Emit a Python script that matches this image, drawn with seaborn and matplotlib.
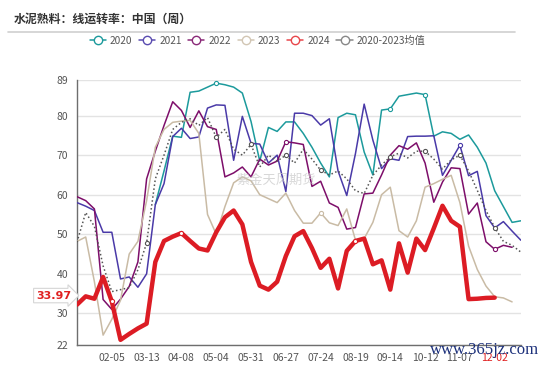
import numpy as np
import pandas as pd
import matplotlib
matplotlib.use("Agg")
import matplotlib.pyplot as plt
import seaborn as sns
from matplotlib.lines import Line2D

# ---------------- data ----------------
title = "水泥熟料：线运转率：中国（周）"
tick_labels = ["02-05", "03-13", "04-08", "05-04", "05-31", "06-27",
               "07-24", "08-19", "09-14", "10-12", "11-07", "12-02"]
n_weeks = 52
tick_step = 4

y2020_start = 9
y2020 = [57.5, 66, 74.8, 74.5, 85.9, 86.2, 87.2, 88.2, 87.8, 87.2, 85.7, 78.5,
         68.5, 77, 76, 78.4, 78.4, 75.5, 72, 68, 64.5, 79.5, 80.6, 80.2, 70.8,
         65, 81.4, 81.7, 84.9, 85.3, 85.7, 85.3, 74.8, 75.9, 75.5, 74, 75.1, 72,
         68, 61, 57, 53, 53.4]
y2021 = [58.0, 57.1, 56, 50.5, 50.5, 38.7, 39.2, 36.6, 40, 57.5,
         62.8, 74.7, 76.8, 74.2, 74.6, 81.9, 82.7, 82.6, 68.7, 79.8,
         73, 72.8, 68, 70, 60.8, 80.6, 80.6, 80, 77.6, 79.2,
         66, 59.8, 70.4, 82.9, 73.8, 66.6, 69.1, 68.7, 74.7, 74.8,
         74.8, 74.9, 64.9, 68.7, 72.5, 64.8, 65.9, 54.7, 51.6, 53.2,
         50.8, 48.5]
y2022 = [59.5, 58.5, 56.4, 33.5, 31, 33.6, 36.8, 43, 64, 71,
         77.5, 83.5, 81.3, 77, 81.2, 77.2, 76.5, 64.5, 65.5, 67,
         64.5, 69, 67.5, 68.5, 73.4, 73.1, 72.7, 62.1, 63.4, 57.9,
         56.8, 51.3, 51.7, 60.2, 60.4, 65, 70, 72.4, 71.5, 73.1,
         68, 58.1, 63.2, 66.8, 66.6, 55.1, 57.9, 48.1, 46.2, 47.2,
         46.7]
y2023 = [48.2, 49.3, 38, 24.5, 28.5, 33.3, 45, 48.2, 58.5, 72,
         76.5, 78.3, 78.6, 78.8, 75.5, 55, 50, 57, 63, 64.5,
         63.5, 60, 59, 58, 60.4, 56, 52.8, 52.8, 55.4, 52.9,
         52.2, 56.4, 48.5, 48.9, 53, 60, 61.9, 50.9, 49.3, 53.4,
         61.9, 62.8, 63.9, 64.9, 58, 47, 41.1, 36.9, 34.2, 33.9,
         32.9]
y2024 = [32.2, 34.3, 33.7, 39.2, 33.0, 23.3, 24.8, 26.2, 27.4, 43,
         48.3, 49.4, 50.3, 48.3, 46.4, 45.9, 50.5, 54.3, 56, 52.5,
         43, 37, 36, 38, 44.5, 49.5, 50.8, 46.5, 41.5, 43.8,
         36.3, 45.8, 48.3, 48.9, 42.4, 43.4, 36, 47.7, 40.3, 48.9,
         46, 51.5, 57.2, 53.4, 51.9, 33.6, 33.7, 33.9, 33.97]
yavg = [48, 55.5, 52, 42, 35.5, 36, 36.5, 41, 47.8, 64,
        70, 76.5, 78.3, 79.2, 77.5, 79.5, 74.5, 76.5, 71.5, 70,
        72.7, 67, 70, 68.5, 70, 68, 71.5, 69, 66.2, 65,
        66, 64, 61, 60.3, 64.9, 67.5, 69.6, 70.5, 69.3, 71,
        71, 69, 66.5, 68.8, 70, 66, 61.1, 56, 51.7, 48.2,
        47.2, 45.5]
latest_value = 33.97

names = ["2020", "2021", "2022", "2023", "2024", "2020-2023均值"]
values = [y2020, y2021, y2022, y2023, y2024, yavg]
starts = [y2020_start, 0, 0, 0, 0, 0]
# weeks at which the reference shows a hollow symbol on each line
symbol_weeks = [[16, 36, 40], [44], [24, 48], [28], [4, 12, 32],
                [8, 16, 20, 24, 28, 36, 40, 44, 48]]
colors = ["#1c9a9c", "#4a3aa8", "#7d0e6a", "#c9bba5", "#dc1c24", "#555555"]
legend_colors = ["#1c9a9c", "#5a4cb0", "#8a2a78", "#d2c6b4", "#e8474b", "#888888"]

# ---------------- style ----------------
sns.set_style("white")
plt.rcParams['font.family'] = ['Noto Sans CJK SC', 'DejaVu Sans']

fig = plt.figure(figsize=(5.5, 3.65), dpi=100)
fig.patch.set_facecolor("white")
ax = fig.add_axes([77 / 550, 20 / 365, (520.8 - 77) / 550, 265 / 365])

for i, (name, vals, st, c, sw) in enumerate(zip(names, values, starts, colors, symbol_weeks)):
    weeks = np.arange(st, st + len(vals))
    df = pd.DataFrame({"week": weeks, "value": vals})
    marks = [k for k, w in enumerate(weeks) if w in sw]
    is_red = name == "2024"
    is_avg = name.endswith("均值")
    sns.lineplot(data=df, x="week", y="value", ax=ax, color=c,
                 linewidth=3.2 if is_red else 1.1,
                 linestyle=(0, (1, 1.6)) if is_avg else "-",
                 marker="o", markevery=marks, markersize=3.0,
                 markerfacecolor="white", markeredgecolor=c,
                 markeredgewidth=0.8, errorbar=None, legend=False,
                 zorder=3 + i)

ax.set_xlim(0, n_weeks - 1)
ax.set_ylim(22, 89)
ax.set_yticks([22, 30, 40, 50, 60, 70, 80, 89])
ax.set_xticks(np.arange(tick_step, tick_step * len(tick_labels) + 1, tick_step))
ax.set_xticklabels(tick_labels)
ax.set_xlabel("")
ax.set_ylabel("")
ax.grid(axis="y", color="#e3e3e3", linewidth=1.0, zorder=0)
ax.grid(axis="x", visible=False)
for s in ["top", "right"]:
    ax.spines[s].set_visible(False)
for s in ["left", "bottom"]:
    ax.spines[s].set_color("#6e6e6e")
    ax.spines[s].set_linewidth(1.0)
ax.tick_params(axis="both", colors="#6e6e6e", labelcolor="#555555",
               labelsize=7.5, length=3.5, width=1.0, direction="out")
ax.tick_params(axis="y", pad=3)
ax.tick_params(axis="x", pad=2)
lbls = ax.get_xticklabels()
lbls[-1].set_color("#e02020")

# latest value label on the y-axis
ax.annotate(f"{latest_value:.2f}", xy=(0, latest_value), xycoords="data",
            xytext=(-17, 1.5), textcoords="offset points",
            ha="center", va="center", fontsize=8, fontweight="bold",
            color="#e02020", family=["DejaVu Sans"],
            bbox=dict(boxstyle="rarrow,pad=0.2", fc="white", ec="#d6d6d6", lw=0.8),
            annotation_clip=False, zorder=20)

# title and separator
fig.text(14 / 550, 1 - 19 / 365, title, fontsize=8.6, fontweight="bold",
         color="#333333", ha="left", va="center")
fig.add_artist(Line2D([8 / 550, 515 / 550], [1 - 31.7 / 365] * 2,
                      color="#d0d0d0", linewidth=1.2))

# legend
handles = [Line2D([], [], color=c, lw=1.1, marker="o", markersize=6.0,
                  markerfacecolor="white", markeredgecolor=c, markeredgewidth=1.0)
           for c in legend_colors]
fig.legend(handles, names, loc="center", bbox_to_anchor=(257.5 / 550, 1 - 40.7 / 365),
           ncol=6, frameon=False, fontsize=7.3, handlelength=1.6,
           handletextpad=0.4, columnspacing=0.65, labelcolor="#555555")

# watermarks
fig.text(276 / 550, 1 - 180 / 365, "紫金天风期货", fontsize=9.5, color="#c8c8c8",
         alpha=0.7, ha="center", va="center", zorder=1)
fig.text(485 / 550, 1 - 350 / 365, "www.365jz.com", fontsize=12, color="#1b2f7a",
         family=["Liberation Serif", "DejaVu Serif"], ha="center", va="center",
         zorder=30)

fig.savefig("out.png", dpi=100, facecolor="white")
